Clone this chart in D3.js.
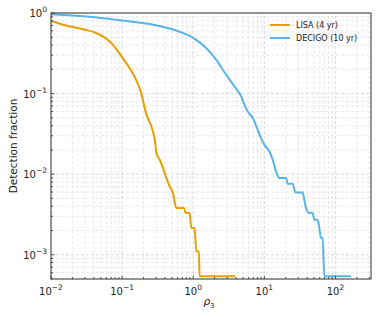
<!DOCTYPE html>
<html>
<head>
<meta charset="utf-8">
<script src="https://cdn.jsdelivr.net/npm/d3@7"></script>
<style>
  body { margin: 0; background: #fff; }
  svg { font-family: 'DejaVu Sans', sans-serif; }
</style>
</head>
<body>
<svg id="chart"></svg>
<script>
// survival curves, [rho3, fraction]
const lisaRho = [0.01, 0.0157, 0.030, 0.0414, 0.0542, 0.071, 0.103, 0.1355, 0.151, 0.186, 0.220, 0.258, 0.288, 0.304, 0.338, 0.376, 0.420, 0.467, 0.519, 0.579, 0.741, 0.782, 0.891, 0.940, 1.046, 1.105, 1.202, 1.23, 3.89];
const lisaFrac = [0.796, 0.706, 0.620, 0.572, 0.508, 0.421, 0.272, 0.190, 0.160, 0.101, 0.0545, 0.039, 0.0267, 0.0182, 0.0151, 0.0119, 0.00895, 0.00705, 0.00583, 0.0038, 0.0038, 0.0033, 0.0033, 0.00215, 0.00215, 0.0011, 0.0011, 0.00054, 0.00054];

const decigoRho = [0.01, 0.0414, 0.0871, 0.288, 0.644, 0.99, 1.53, 2.11, 2.91, 3.81, 4.73, 5.26, 5.85, 6.88, 8.07, 9.01, 10.0, 11.8, 13.1, 14.6, 16.3, 20.2, 21.3, 25.0, 27.3, 34.6, 36.5, 38.5, 42.9, 47.8, 50.5, 56.1, 59.3, 62.7, 65.9, 69.7, 165];
const decigoFrac = [0.963, 0.885, 0.819, 0.710, 0.586, 0.494, 0.365, 0.262, 0.171, 0.122, 0.0918, 0.0724, 0.0598, 0.0496, 0.0355, 0.028, 0.0231, 0.0191, 0.0151, 0.0108, 0.00895, 0.00895, 0.0076, 0.0076, 0.00593, 0.00593, 0.00482, 0.0038, 0.0033, 0.0033, 0.00272, 0.00272, 0.00215, 0.00161, 0.00161, 0.00054, 0.00054];

const seriesNames = ['LISA (4 yr)', 'DECIGO (10 yr)'];
const seriesColors = ['#E69F00', '#56B4E9'];
const xTicks = [0.01, 0.1, 1, 10, 100];
const yTicks = [0.001, 0.01, 0.1, 1];

const width = 381, height = 317;
const margin = { left: 51, right: 10, top: 13, bottom: 38 };

const svg = d3.select('#chart').attr('width', width).attr('height', height);

const x = d3.scaleLog().domain([0.01, 316]).range([margin.left, width - margin.right]);
const y = d3.scaleLog().domain([5e-4, 1]).range([height - margin.bottom, margin.top]);

// minor + major grid
const xMinor = [], yMinor = [];
for (let e = -2; e <= 2; e++) for (let m = 1; m < 10; m++) {
  let v = m * Math.pow(10, e);
  if (v >= 0.01 && v <= 316) xMinor.push(v);
}
for (let e = -4; e <= 0; e++) for (let m = 1; m < 10; m++) {
  let v = m * Math.pow(10, e);
  if (v >= 5e-4 && v <= 1) yMinor.push(v);
}

const grid = svg.append('g');
grid.selectAll('.gx').data(xMinor).enter().append('line')
  .attr('x1', d => x(d)).attr('x2', d => x(d))
  .attr('y1', y(5e-4)).attr('y2', y(1))
  .attr('stroke', d => xTicks.includes(d) ? '#d0d0d0' : '#e2e2e2')
  .attr('stroke-width', 0.8)
  .attr('stroke-dasharray', '3,2');
grid.selectAll('.gy').data(yMinor).enter().append('line')
  .attr('y1', d => y(d)).attr('y2', d => y(d))
  .attr('x1', x(0.01)).attr('x2', x(316))
  .attr('stroke', d => yTicks.includes(d) ? '#d0d0d0' : '#e2e2e2')
  .attr('stroke-width', 0.8)
  .attr('stroke-dasharray', '3,2');

// lines
const line = d3.line().x(d => x(d[0])).y(d => y(d[1])).curve(d3.curveMonotoneX);
const series = [
  d3.zip(lisaRho, lisaFrac),
  d3.zip(decigoRho, decigoFrac)
];
series.forEach((s, i) => {
  svg.append('path')
    .datum(s)
    .attr('d', line)
    .attr('fill', 'none')
    .attr('stroke', seriesColors[i])
    .attr('stroke-width', 2)
    .attr('stroke-linejoin', 'round');
});

// frame
svg.append('rect')
  .attr('x', margin.left).attr('y', margin.top)
  .attr('width', width - margin.left - margin.right)
  .attr('height', height - margin.top - margin.bottom)
  .attr('fill', 'none')
  .attr('stroke', '#333')
  .attr('stroke-width', 1);

// ticks pointing in
const tickG = svg.append('g');
tickG.selectAll('.tx').data(xMinor).enter().append('line')
  .attr('x1', d => x(d)).attr('x2', d => x(d))
  .attr('y1', y(5e-4)).attr('y2', d => y(5e-4) - (xTicks.includes(d) ? 3.5 : 2))
  .attr('stroke', '#333').attr('stroke-width', 0.8);
tickG.selectAll('.ty').data(yMinor).enter().append('line')
  .attr('y1', d => y(d)).attr('y2', d => y(d))
  .attr('x1', x(0.01)).attr('x2', d => x(0.01) + (yTicks.includes(d) ? 3.5 : 2))
  .attr('stroke', '#333').attr('stroke-width', 0.8);

function powLabel(sel, v) {
  let e = Math.round(Math.log10(v));
  sel.append('tspan').text('10');
  sel.append('tspan').attr('dy', -5).attr('font-size', 7.5).text(e < 0 ? '\u2212' + (-e) : e);
}

xTicks.forEach(v => {
  let t = svg.append('text')
    .attr('x', x(v)).attr('y', height - margin.bottom + 16)
    .attr('text-anchor', 'middle')
    .attr('font-size', 10).attr('fill', '#222');
  powLabel(t, v);
});
yTicks.forEach(v => {
  let t = svg.append('text')
    .attr('x', margin.left - 4).attr('y', y(v) + 4)
    .attr('text-anchor', 'end')
    .attr('font-size', 10).attr('fill', '#222');
  powLabel(t, v);
});

// axis labels
svg.append('text')
  .attr('transform', 'translate(17,' + (margin.top + (height - margin.top - margin.bottom) / 2) + ') rotate(-90)')
  .attr('text-anchor', 'middle')
  .attr('font-size', 10.5).attr('fill', '#222')
  .text('Detection fraction');

let xl = svg.append('text')
  .attr('x', 209).attr('y', 305)
  .attr('text-anchor', 'middle')
  .attr('font-size', 10.5).attr('fill', '#222');
xl.append('tspan').attr('font-style', 'italic').text('\u03C1');
xl.append('tspan').attr('dy', 3).attr('font-size', 7).text('3');

// legend
const legend = svg.append('g').attr('transform', 'translate(270,25)');
seriesNames.forEach((name, i) => {
  legend.append('line')
    .attr('x1', 0).attr('x2', 20)
    .attr('y1', i * 13).attr('y2', i * 13)
    .attr('stroke', seriesColors[i]).attr('stroke-width', 2);
  legend.append('text')
    .attr('x', 26).attr('y', i * 13 + 3)
    .attr('font-size', 8).attr('fill', '#222')
    .text(name);
});
</script>
</body>
</html>
